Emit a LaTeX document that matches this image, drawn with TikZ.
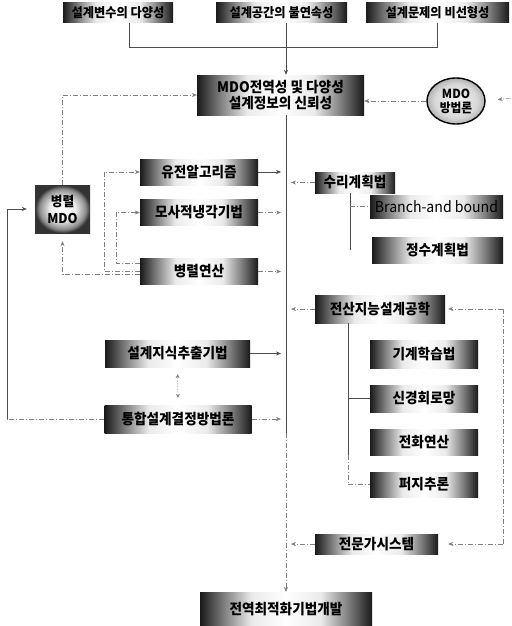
\documentclass[tikz,border=0pt]{standalone}
\usepackage{fontspec}
\setmainfont{Noto Sans CJK KR}[FakeStretch=0.94]
\usetikzlibrary{arrows.meta,calc,shapes.geometric}
\pgfdeclarehorizontalshading{edgeshade}{100bp}{color(0bp)=(black!90); color(25bp)=(black!90); color(32bp)=(black!50); color(40bp)=(black!8); color(50bp)=(white); color(60bp)=(black!8); color(68bp)=(black!50); color(75bp)=(black!90); color(100bp)=(black!90)}
\pgfdeclareradialshading{boxglow}{\pgfpoint{0bp}{0bp}}{color(0bp)=(white); color(12bp)=(black!8); color(21bp)=(black!45); color(25bp)=(black!80); color(50bp)=(black!80)}
\pgfdeclareradialshading{circglow}{\pgfpoint{0bp}{0bp}}{color(0bp)=(black!5); color(18bp)=(black!15); color(25bp)=(black!30); color(50bp)=(black!30)}
\tikzset{
  gbox/.style={shade, shading=edgeshade, inner sep=0pt, minimum height=26pt, align=center, font=\fontsize{14.5}{16.5}\selectfont\bfseries},
  tbox/.style={gbox, minimum height=20pt, font=\fontsize{13}{14}\selectfont\bfseries},
  mbox/.style={shade, shading=boxglow, inner sep=0pt, minimum width=55pt, minimum height=48pt, align=center, font=\fontsize{13.5}{17}\selectfont\bfseries},
  circ/.style={ellipse, draw=black, line width=1.4pt, shade, shading=circglow, inner sep=0pt, minimum width=58pt, minimum height=46pt, align=center, font=\fontsize{12.5}{14}\selectfont\bfseries},
  arr/.style={-{Stealth[length=5pt,width=4pt]}},
  ln/.style={draw=black!70, line width=0.5pt},
  dl/.style={draw=black!50, line width=0.5pt, dash pattern=on 5pt off 2pt on 1pt off 2pt},
  dt/.style={draw=black!50, line width=0.6pt, densely dotted}
}
\begin{document}
\begin{tikzpicture}[x=1pt,y=-1pt]
\useasboundingbox (0,0) rectangle (511,626);
\fill[white] (0,0) rectangle (511,626);
% helper coordinates
\coordinate (bus) at (286,0);
\coordinate (brk) at (0,47);
\coordinate (b1) at (129,0);
\coordinate (lx0) at (7,0);
\coordinate (lx1) at (104,0);
\coordinate (lx2) at (116,0);
\coordinate (trA) at (350,0);
\coordinate (trB) at (348,0);
\coordinate (rx) at (503,0);
\coordinate (redge) at (511,98);
\coordinate (busend) at (286,433);
% nodes
\node[tbox, minimum width=110pt] (t1) at (118,13) {설계변수의 다양성};
\node[tbox, minimum width=131pt] (t2) at (281.5,13) {설계공간의 불연속성};
\node[tbox, minimum width=143pt] (t3) at (437.5,13) {설계문제의 비선형성};
\node[gbox, minimum width=167pt, minimum height=40pt] (c) at (280.5,95) {MDO전역성 및 다양성\\설계정보의 신뢰성};
\node[circ] (m) at (456,101) {MDO\\방법론};
\node[mbox] (p) at (62.5,209) {병렬\\MDO};
\node[gbox, minimum width=118pt] (ga) at (199,172) {유전알고리즘};
\node[gbox, minimum width=118pt] (sa) at (199,212.5) {모사적냉각기법};
\node[gbox, minimum width=118pt] (pc) at (199,271.5) {병렬연산};
\node[gbox, minimum width=80pt, minimum height=21pt] (mp) at (355,182.5) {수리계획법};
\node[gbox, minimum width=133pt, minimum height=23pt, font=\fontsize{15}{17}\selectfont\mdseries] (bb) at (436.5,206.5) {Branch-and bound};
\node[gbox, minimum width=131pt] (ip) at (437.5,250) {정수계획법};
\node[gbox, minimum width=145pt, minimum height=27pt] (kx) at (177.5,353.5) {설계지식추출기법};
\node[gbox, minimum width=147pt, minimum height=28pt] (it) at (178,419) {통합설계결정방법론};
\node[gbox, minimum width=130pt, minimum height=28pt] (ai) at (380,309) {전산지능설계공학};
\node[gbox, minimum width=108pt, minimum height=28pt] (ml) at (424,354) {기계학습법};
\node[gbox, minimum width=108pt, minimum height=27pt] (nn) at (424,398.5) {신경회로망};
\node[gbox, minimum width=108pt, minimum height=26pt] (ec) at (424,442) {전화연산};
\node[gbox, minimum width=108pt, minimum height=25pt] (fz) at (424,484.5) {퍼지추론};
\node[gbox, minimum width=123pt, minimum height=20pt] (es) at (376.5,544) {전문가시스템};
\node[gbox, minimum width=172pt, minimum height=34pt] (go) at (286,609) {전역최적화기법개발};
% connectors top
\draw[ln] (t1.south -| b1) -- (b1 |- brk) -- (t3.south |- brk) -- (t3.south);
\draw[ln, arr] (t2.south -| bus) -- (c.north -| bus);
\draw[dl, arr] (m.west) -- (m.west -| c.east);
\draw[dl, arr, shorten >=12pt] (redge) -- (m.east);
% left side
\draw[dl, arr] (p.north) |- (c.west);
\draw[ln, arr, shorten >=5pt] (ga.east) -- (ga.east -| bus);
\draw[dl, arr, shorten >=5pt] (sa.east) -- (sa.east -| bus);
\draw[dl, arr, shorten >=5pt] (pc.east) -- (pc.east -| bus);
\draw[dl, arr] (pc.west) -- (pc.west -| lx1) |- (ga.west);
\draw[dl, arr] ([yshift=8pt]pc.west) -- ([yshift=8pt]pc.west -| lx2) |- (sa.west);
\draw[dl, arr, shorten >=8pt] ([yshift=-3pt]pc.west) -| (p.south);
\draw[ln, arr, shorten >=5pt] (kx.east) -- (kx.east -| bus);
\draw[dl, arr, shorten >=5pt] (it.east) -- (it.east -| bus);
\draw[dt, {Stealth[length=4pt,width=4pt]}-{Stealth[length=4pt,width=4pt]}, shorten <=7pt, shorten >=7pt] (kx.south) -- (it.north);
\draw[dl] (it.west) -- (it.west -| lx0);
\draw[ln, arr, shorten >=8pt] (it.west -| lx0) |- (p.west);
% right side
\draw[dl, arr, shorten >=5pt] (mp.west) -- (mp.west -| bus);
\draw[ln] (mp.south -| trA) -- (ip.west -| trA);
\draw[dl] (bb.west -| trA) -- (bb.west);
\draw[dl, arr, shorten >=5pt] (ai.west) -- (ai.west -| bus);
\draw[ln] (ai.south -| trB) -- (ec.south -| trB);
\draw[dl] (ec.south -| trB) -- (fz.west -| trB);
\draw[ln] (nn.west -| trB) -- (nn.west);
\draw[dl] (fz.west -| trB) -- (fz.west);
\draw[dl] (ai.east -| rx) -- (es.east -| rx);
\draw[dl, arr, shorten >=3pt] (ai.east -| rx) -- (ai.east);
\draw[dl, arr, shorten >=10pt] (es.east -| rx) -- (es.east);
\draw[dl, arr, shorten >=5pt] (es.west) -- (es.west -| bus);
% main bus
\draw[ln] (c.south -| bus) -- (busend);
\draw[dl, arr] (busend) -- (go.north -| bus);
\end{tikzpicture}
\end{document}
